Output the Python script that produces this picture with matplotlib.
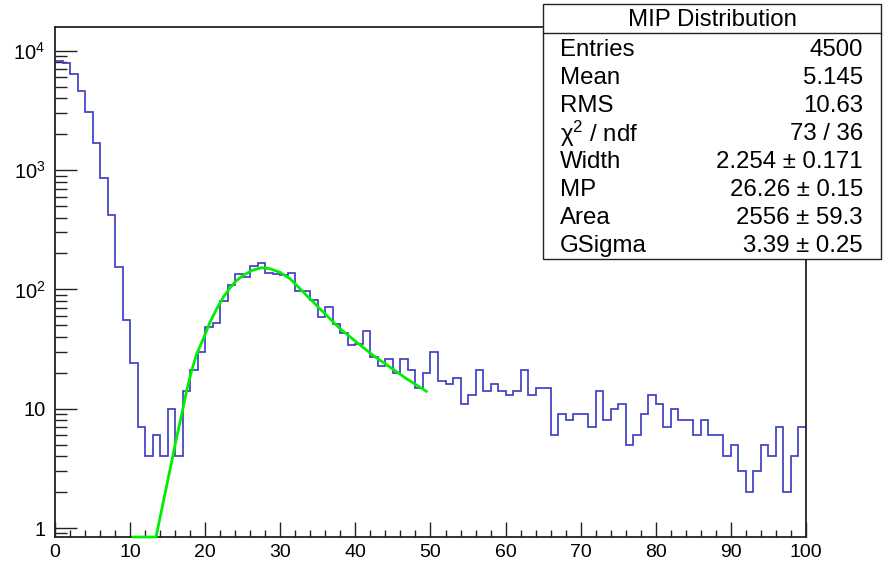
import matplotlib
matplotlib.use("Agg")
import matplotlib.pyplot as plt
import numpy as np
from matplotlib.patches import Rectangle
from matplotlib.lines import Line2D
from matplotlib.ticker import FixedLocator, MultipleLocator, LogLocator, NullFormatter

plt.rcParams['font.family'] = ['Liberation Sans', 'DejaVu Sans']
plt.rcParams['mathtext.fontset'] = 'custom'
plt.rcParams['mathtext.rm'] = 'Liberation Sans'
plt.rcParams['mathtext.it'] = 'Liberation Sans:italic'

# ---------------- data ----------------
bin_edges = list(range(0, 101))
counts = [8170, 7870, 6410, 4600, 3040, 1680, 859, 422, 153, 55,
          24, 7, 4, 6, 4, 10, 4, 14, 21, 30,
          48, 52, 80, 108, 135, 126, 158, 166, 138, 135,
          133, 138, 97, 97, 81, 59, 71, 51, 43, 34,
          35, 45, 27, 23, 26, 20, 26, 21, 15, 20,
          30, 17, 16, 18, 11, 13, 21, 14, 16, 14,
          13, 14, 21, 13, 15, 15, 6, 9, 8, 9,
          9, 7, 14, 8, 10, 11, 5, 6, 9, 13,
          11, 7, 10, 8, 8, 6, 8, 6, 6, 4,
          5, 3, 2, 3, 5, 4, 7, 2, 4, 7]

fit_x = [10.2, 13.45, 15.75, 16.11, 17.08, 17.53, 18.20, 18.87, 19.75, 20.64,
         21.53, 22.41, 23.30, 24.19, 25.07, 26.19, 27.52, 28.63, 29.96, 31.29,
         33.51, 35.73, 37.95, 40.17, 42.38, 44.61, 46.83, 49.6]
fit_y = [0.841, 0.841, 4.19, 5.41, 10.3, 14.2, 20.9, 28.8, 38.5, 53.1,
         68.7, 86.0, 103, 119, 131, 144, 152, 149, 139, 123,
         88.9, 64.4, 46.8, 36.1, 27.9, 22.3, 17.8, 13.8]

ytick_vals = [1, 10, 100, 1000, 10000]
ytick_labels = ['1', '10', r'$10^{2}$', r'$10^{3}$', r'$10^{4}$']

stats_title = 'MIP Distribution'
stats_names = ['Entries', 'Mean', 'RMS', r'χ$^{2}$ / ndf', 'Width', 'MP', 'Area', 'GSigma']
stats_values = ['4500', '5.145', '10.63', '73 / 36', '2.254 ± 0.171',
                '26.26 ± 0.15', '2556 ± 59.3', '3.39 ± 0.25']

# ---------------- figure ----------------
W, H = 887, 562
fig = plt.figure(figsize=(W / 100, H / 100), dpi=100)
fig.patch.set_facecolor('white')

def fx(px):
    return px / W

def fy(py):
    return 1 - py / H

ax = fig.add_axes([fx(55), fy(537), fx(806) - fx(55), fy(27) - fy(537)])

ax.stairs(counts, bin_edges, color='#4040c4', lw=1.25, baseline=None, zorder=2)
ax.plot(fit_x, fit_y, color='#00ee00', lw=2.0, clip_on=False, zorder=3,
        solid_joinstyle='round', solid_capstyle='butt')

ax.set_yscale('log')
ax.set_xlim(0, 100)
ax.set_ylim(0.841, 15820)

ax.yaxis.set_major_locator(FixedLocator(ytick_vals))
ax.set_yticklabels(ytick_labels)
ax.yaxis.set_minor_locator(LogLocator(base=10, subs=np.arange(2, 10)))
ax.yaxis.set_minor_formatter(NullFormatter())
ax.xaxis.set_major_locator(MultipleLocator(10))
ax.xaxis.set_minor_locator(MultipleLocator(2))

ax.tick_params(axis='x', which='major', direction='in', length=10.8, width=1.0,
               labelsize=14, pad=5, color='#222222')
ax.tick_params(axis='x', which='minor', direction='in', length=5, width=1.0, color='#222222')
ax.tick_params(axis='y', which='major', direction='in', length=15.8, width=1.0,
               labelsize=14.5, pad=7, color='#222222')
ax.tick_params(axis='y', which='minor', direction='in', length=8.6, width=1.0, color='#222222')
ax.tick_params(top=False, right=False, which='both')

for s in ax.spines.values():
    s.set_linewidth(1.3)
    s.set_color('#222222')

# ---------------- stats box ----------------
bx0, bx1, by0, by1 = 543, 881, 4, 259
box = Rectangle((fx(bx0), fy(by1)), fx(bx1) - fx(bx0), fy(by0) - fy(by1),
                transform=fig.transFigure, facecolor='white', edgecolor='#222222',
                lw=1.0, zorder=10)
fig.add_artist(box)
sep = Line2D([fx(bx0), fx(bx1)], [fy(33), fy(33)], transform=fig.transFigure,
             color='#222222', lw=1.0, zorder=11)
fig.add_artist(sep)

fs = 17.3
fig.text(fx((bx0 + bx1) / 2), fy(19.5), stats_title, ha='center', va='center',
         fontsize=fs, zorder=12)
row_y = [49.5 + 28.1 * i for i in range(len(stats_names))]
for name, val, yy in zip(stats_names, stats_values, row_y):
    fig.text(fx(560), fy(yy), name, ha='left', va='center', fontsize=fs, zorder=12)
    fig.text(fx(863), fy(yy), val, ha='right', va='center', fontsize=fs, zorder=12)

fig.savefig('out.png', dpi=100, facecolor='white')
